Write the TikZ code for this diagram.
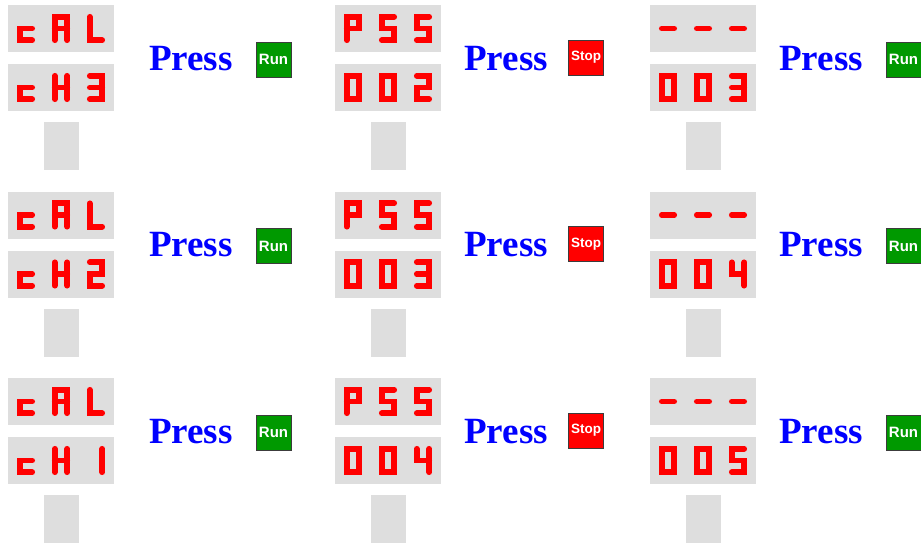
\documentclass[tikz,border=0pt]{standalone}
\usepackage{fontspec}
\usepackage{xcolor}
\usepackage{tikz}
\usetikzlibrary{positioning}
\setmainfont{Liberation Serif}
\newfontfamily\keyfont{Liberation Sans}
\definecolor{ledred}{HTML}{FF0000}
\definecolor{panelgray}{HTML}{DEDEDE}
\definecolor{pressblue}{HTML}{0000FF}
\definecolor{rungreen}{HTML}{009900}
\definecolor{stopred}{HTML}{FF0000}
\definecolor{rimgray}{HTML}{3C3C3C}

% seven-segment strokes, cell 12.5 x 23.5 (y runs downwards)
\expandafter\def\csname segc\endcsname{(12.5,11.75) -- (0,11.75) -- (0,23.5) -- (12.5,23.5)}
\expandafter\def\csname segA\endcsname{(0,23.5) -- (0,0) -- (12.5,0) -- (12.5,23.5) (0,11.75) -- (12.5,11.75)}
\expandafter\def\csname segL\endcsname{(0,0) -- (0,23.5) -- (12.5,23.5)}
\expandafter\def\csname segH\endcsname{(0,0) -- (0,23.5) (12.5,0) -- (12.5,23.5) (0,11.75) -- (12.5,11.75)}
\expandafter\def\csname segP\endcsname{(0,23.5) -- (0,0) -- (12.5,0) -- (12.5,11.75) -- (0,11.75)}
\expandafter\def\csname seg0\endcsname{(0,0) -- (12.5,0) -- (12.5,23.5) -- (0,23.5) -- cycle}
\expandafter\def\csname seg1\endcsname{(12.5,0) -- (12.5,23.5)}
\expandafter\def\csname seg2\endcsname{(0,0) -- (12.5,0) -- (12.5,11.75) -- (0,11.75) -- (0,23.5) -- (12.5,23.5)}
\expandafter\def\csname seg3\endcsname{(0,0) -- (12.5,0) -- (12.5,23.5) -- (0,23.5) (0,11.75) -- (12.5,11.75)}
\expandafter\def\csname seg4\endcsname{(0,0) -- (0,11.75) -- (12.5,11.75) (12.5,0) -- (12.5,23.5)}
\expandafter\def\csname seg5\endcsname{(12.5,0) -- (0,0) -- (0,11.75) -- (12.5,11.75) -- (12.5,23.5) -- (0,23.5)}
\expandafter\def\csname segdash\endcsname{(0,11.75) -- (12.5,11.75)}

\newcommand{\ledrow}[3]{%
  \foreach \g [count=\k from 0] in {#3}{%
    \begin{scope}[shift={({#1+11.75+35*\k},{#2+11.75})}]
      \expandafter\let\expandafter\segpath\csname seg\g\endcsname
      \draw[seg] \segpath;
    \end{scope}}}

\begin{document}
\begin{tikzpicture}[x=1pt, y=-1pt,
    display/.style={rectangle, fill=panelgray, minimum width=106pt, minimum height=47pt, inner sep=0pt, anchor=north west},
    stub/.style={rectangle, fill=panelgray, minimum width=35pt, minimum height=48pt, inner sep=0pt, anchor=north west},
    press/.style={text=pressblue, font=\bfseries\fontsize{37}{37}\selectfont, inner sep=0pt, anchor=base west},
    keybox/.style={rectangle, draw=rimgray, line width=1pt, minimum size=35pt, inner sep=0pt, text=white},
    runkey/.style={keybox, fill=rungreen, font=\keyfont\bfseries\fontsize{15}{15}\selectfont},
    stopkey/.style={keybox, fill=stopred, font=\keyfont\bfseries\fontsize{13.5}{13.5}\selectfont},
    seg/.style={draw=ledred, line width=5.6pt, line cap=round, line join=miter}
]
    \useasboundingbox (0,0) rectangle (921,544);
    \foreach \r/\chn/\pss/\cnt in {0/3/2/3, 1/2/3/4, 2/1/4/5}{
        \pgfmathsetmacro{\yo}{186.5*\r}
        % calibration
        \node[display] (cal-\r)     at (8,{5+\yo}) {};
        \node[display] (ch-\r)      at (8,{64+\yo}) {};
        \node[stub]    (calstub-\r) at (44,{122+\yo}) {};
        \ledrow{8}{5+\yo}{c,A,L}
        \ledrow{8}{64+\yo}{c,H,\chn}
        \node[press]  (calpress-\r) at (149,{70+\yo}) {Press};
        \node[runkey] (calrun-\r)   at (273.5,{59.5+\yo}) {Run};
        % pass
        \node[display] (pss-\r)     at (335,{5+\yo}) {};
        \node[display] (pssno-\r)   at (335,{64+\yo}) {};
        \node[stub]    (pssstub-\r) at (371,{122+\yo}) {};
        \ledrow{335}{5+\yo}{P,5,5}
        \ledrow{335}{64+\yo}{0,0,\pss}
        \node[press]   (psspress-\r) at (464,{70+\yo}) {Press};
        \node[stopkey] (pssstop-\r)  at (586,{57.5+\yo}) {Stop};
        % count
        \node[display] (blank-\r)   at (650,{5+\yo}) {};
        \node[display] (cnt-\r)     at (650,{64+\yo}) {};
        \node[stub]    (cntstub-\r) at (686,{122+\yo}) {};
        \ledrow{650}{5+\yo}{dash,dash,dash}
        \ledrow{650}{64+\yo}{0,0,\cnt}
        \node[press]  (cntpress-\r) at (779,{70+\yo}) {Press};
        \node[runkey] (cntrun-\r)   at (903.5,{59.5+\yo}) {Run};
    }
\end{tikzpicture}
\end{document}
